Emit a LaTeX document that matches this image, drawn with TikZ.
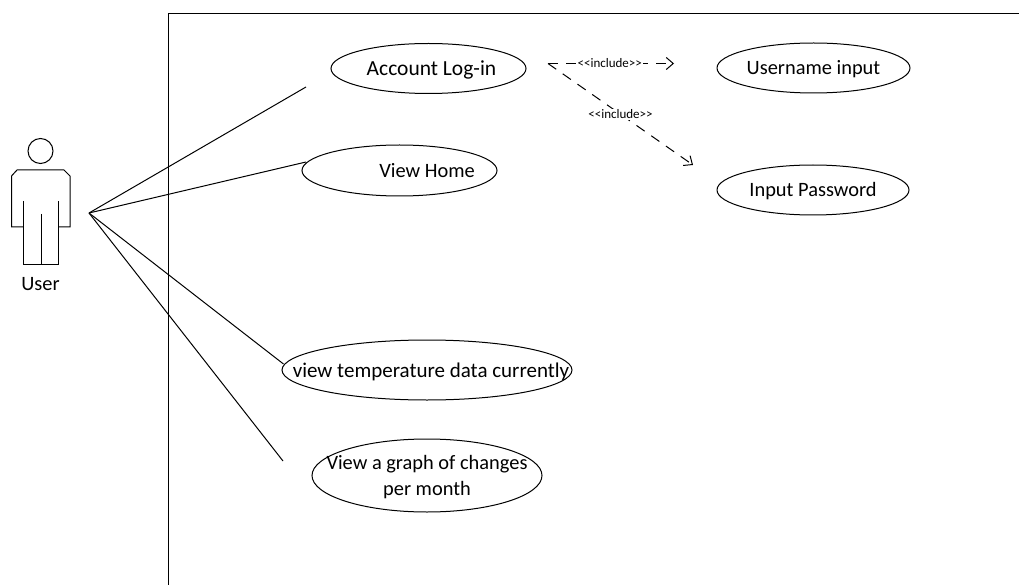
\documentclass[tikz,border=0pt]{standalone}
\usepackage{fontspec}
\setmainfont{Carlito}
\usetikzlibrary{arrows.meta,shapes.geometric}
\newcommand{\caseline}[2][0pt]{\makebox[0pt][c]{\hspace*{#1}\smash{#2}\rule[-1pt]{0pt}{16pt}}}
\newcommand{\incltext}{{<}\kern0pt{<}include{>}\kern0pt{>}}
\tikzset{
  usecase/.style={draw,ellipse,line width=1pt,inner sep=0pt,minimum width=#1,align=center,font=\fontsize{20.4}{26}\selectfont},
  usetext/.style={inner sep=0pt,font=\fontsize{20.4}{26}\selectfont},
  assoc/.style={line width=1pt},
  incl/.style={line width=1pt,dash pattern=on 10pt off 8pt,-{Straight Barb[length=7pt,width=12pt,line width=1pt]}},
  incllabel/.style={inner sep=1pt,fill=white,font=\fontsize{13}{15}\selectfont}
}
\begin{document}
\begin{tikzpicture}[x=1pt,y=-1pt]
\useasboundingbox (0,0) rectangle (1019,585);
\fill[white] (0,0) rectangle (1019,585);
% system boundary
\draw[line width=1pt] (168.5,585) -- (168.5,14) -- (1019,14);
% actor
\node[draw,circle,line width=1pt,minimum size=25pt,inner sep=0pt] (head) at (40.5,151) {};
\draw[line width=1pt] (23,227) -- (11.5,227) -- (11.5,176) -- (17,170) -- (64,170) -- (70,176) -- (70,227) -- (58,227);
\draw[line width=1pt] (23,201) -- (23,264) -- (58,264) -- (58,201);
\draw[line width=1pt] (41,214) -- (41,264);
\node[usetext] (user) at (40.5,284) {User};
\coordinate (hand) at (89,213);
% use cases
\node[usecase=195pt,minimum height=50pt] (login) at (428.5,68.5) {\caseline[6pt]{\fontsize{21.5}{26}\selectfont Account Log-in}};
\node[usecase=195pt,minimum height=51pt] (home) at (399.5,170.5) {\caseline[55pt]{View Home}};
\node[usecase=193pt,minimum height=50pt] (username) at (813.5,68) {\caseline{Username input}};
\node[usecase=192pt,minimum height=50pt] (password) at (813,190) {\caseline{Input Password}};
\node[usecase=290pt,minimum height=60pt] (temp) at (427,370) {\caseline[8pt]{\fontsize{21}{26}\selectfont view temperature data currently}};
\node[usecase=230pt,minimum height=73pt] (graph) at (427,475.5) {\caseline{View a graph of changes}\\\caseline{per month}};
% associations
\coordinate (e1) at (306,87);
\coordinate (e2) at (306,162);
\coordinate (e3) at (283.5,364);
\coordinate (e4) at (283,461);
\draw[assoc] (hand) -- (e1);
\draw[assoc] (hand) -- (e2);
\draw[assoc] (hand) -- (e3);
\draw[assoc] (hand) -- (e4);
% includes
\coordinate (s) at (548,63.5);
\coordinate (t1) at (674,63.5);
\coordinate (t2) at (693,165);
\draw[incl] (s) -- (t1) node[incllabel,pos=0.49] (l1) {\incltext};
\draw[incl] (s) -- (t2) node[incllabel,pos=0.5] (l2) {\incltext};
\end{tikzpicture}
\end{document}
